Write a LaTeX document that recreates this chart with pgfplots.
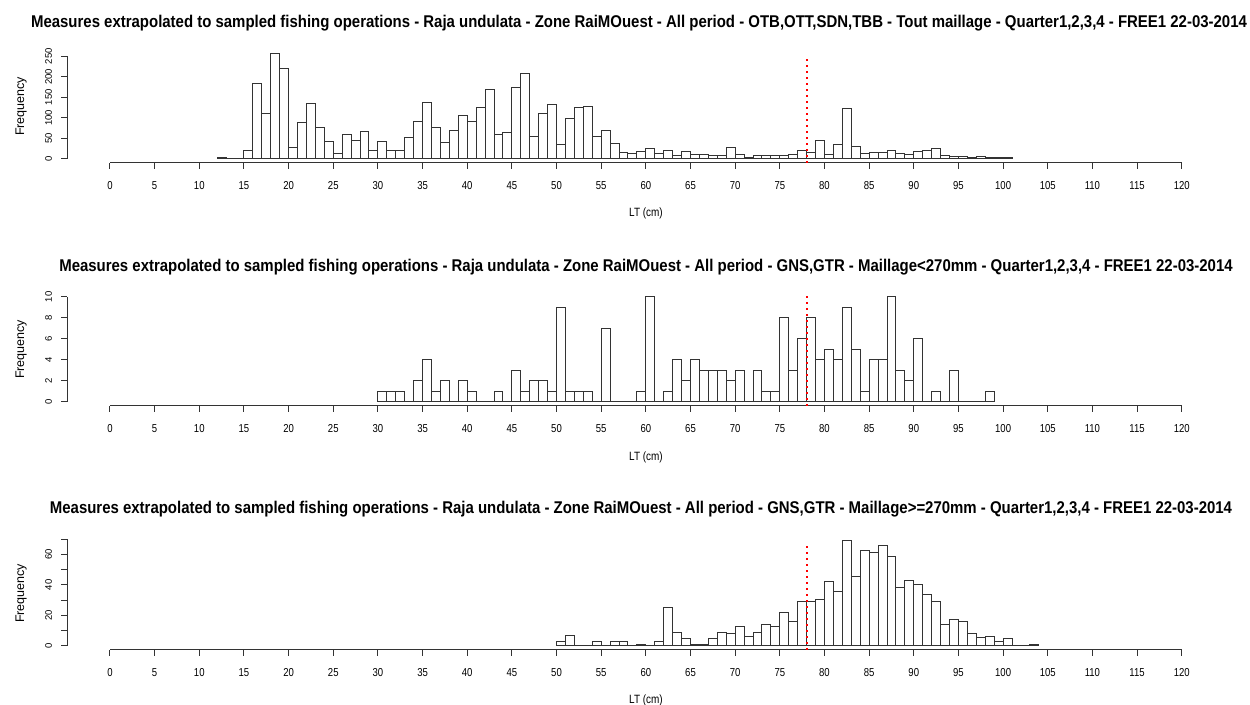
\documentclass[border=0pt]{standalone}
\usepackage{pgfplots}
\pgfplotsset{compat=1.18}
\usepackage{fontspec}
\setmainfont{Liberation Sans}[FakeStretch=0.83]
\newfontfamily\upfont{Liberation Sans}
\newfontfamily\titlefont[FakeStretch=0.88]{Liberation Sans}
\begin{document}
\begin{tikzpicture}
\useasboundingbox (0,0) rectangle (1250pt,704pt);
\pgfplotsset{
  rstyle/.style={
    scale only axis, width=1157.5pt, height=113.4pt,
    xmin=-4.8, xmax=124.8,
    axis line style={draw=none},
    tick pos=left, tick align=outside,
    major tick length=6pt,
    every tick/.style={black!80, line width=1pt},
    xtick={0,5,...,120},
    clip=false,
    /pgf/number format/assume math mode=true,
    xticklabel style={font=\fontsize{11.5}{13}\selectfont, anchor=north, inner sep=0pt},
    xticklabel shift=12pt,
    yticklabel style={font=\upfont\fontsize{9.5}{11}\selectfont, rotate=90, anchor=south, inner sep=0pt},
    yticklabel shift=9pt,
  },
  rbar/.style={ybar interval, fill=white, draw=black!80, line width=1pt},
}
% ---------------- Panel 1 ----------------
\begin{axis}[rstyle, at={(67.1pt,541pt)}, anchor=south west,
  ymin=-10.24, ymax=266.24, ytick={0,50,...,250}]
\addplot[rbar] coordinates {
(12,3)(13,1)(14,1)(15,21)(16,183)(17,110)(18,256)(19,220)(20,28)(21,88)
(22,134)(23,76)(24,43)(25,13)(26,59)(27,45)(28,67)(29,21)(30,41)(31,20)
(32,20)(33,52)(34,90)(35,138)(36,76)(37,39)(38,69)(39,106)(40,92)(41,126)
(42,168)(43,59)(44,63)(45,175)(46,207)(47,54)(48,111)(49,133)(50,36)(51,98)
(52,124)(53,128)(54,54)(55,70)(56,37)(57,16)(58,12)(59,17)(60,24)(61,12)
(62,20)(63,9)(64,17)(65,11)(66,11)(67,7)(68,7)(69,27)(70,11)(71,2)
(72,7)(73,7)(74,7)(75,7)(76,11)(77,21)(78,15)(79,45)(80,11)(81,35)
(82,122)(83,31)(84,12)(85,15)(86,15)(87,20)(88,12)(89,11)(90,18)(91,20)
(92,24)(93,8)(94,6)(95,6)(96,3)(97,5)(98,2)(99,2)(100,2)(101,0)};
\draw[black!80, line width=1pt] (axis cs:0,-10.24) -- (axis cs:120,-10.24);
\draw[black!80, line width=1pt] (axis cs:-4.8,0) -- (axis cs:-4.8,250);
\draw[red, line width=2pt, dash pattern=on 2pt off 4pt] (axis cs:78,-10.24) -- (axis cs:78,250);
\end{axis}
% ---------------- Panel 2 ----------------
\begin{axis}[rstyle, at={(67.1pt,298pt)}, anchor=south west,
  ymin=-0.4, ymax=10.4, ytick={0,2,...,10}]
\addplot[rbar] coordinates {
(30,1)(31,1)(32,1)(33,0)(34,2)(35,4)(36,1)(37,2)(38,0)(39,2)
(40,1)(41,0)(42,0)(43,1)(44,0)(45,3)(46,1)(47,2)(48,2)(49,1)
(50,9)(51,1)(52,1)(53,1)(54,0)(55,7)(56,0)(57,0)(58,0)(59,1)
(60,10)(61,0)(62,1)(63,4)(64,2)(65,4)(66,3)(67,3)(68,3)(69,2)
(70,3)(71,0)(72,3)(73,1)(74,1)(75,8)(76,3)(77,6)(78,8)(79,4)
(80,5)(81,4)(82,9)(83,5)(84,1)(85,4)(86,4)(87,10)(88,3)(89,2)
(90,6)(91,0)(92,1)(93,0)(94,3)(95,0)(96,0)(97,0)(98,1)(99,0)};
\draw[black!80, line width=1pt] (axis cs:0,-0.4) -- (axis cs:120,-0.4);
\draw[black!80, line width=1pt] (axis cs:-4.8,0) -- (axis cs:-4.8,10);
\draw[red, line width=2pt, dash pattern=on 2pt off 4pt] (axis cs:78,-0.4) -- (axis cs:78,10.4);
\end{axis}
% ---------------- Panel 3 ----------------
\begin{axis}[rstyle, at={(67.1pt,54pt)}, anchor=south west,
  ymin=-2.76, ymax=71.76, ytick={0,10,...,70},
  yticklabels={0,{},20,{},40,{},60,{}}]
\addplot[rbar] coordinates {
(50,2.6)(51,7)(52,0)(53,0)(54,2.6)(55,0)(56,2.6)(57,2.6)(58,0)(59,1)
(60,0)(61,2.6)(62,25)(63,9)(64,5)(65,1)(66,1)(67,5)(68,9)(69,8)
(70,13)(71,6)(72,9)(73,14)(74,13)(75,22)(76,16)(77,29)(78,29)(79,30.5)
(80,42)(81,36)(82,69)(83,45.5)(84,62.4)(85,61.5)(86,65.7)(87,58.5)(88,38)(89,43)
(90,40)(91,33.4)(92,29)(93,14)(94,17.6)(95,16)(96,8)(97,5.5)(98,6)(99,2.6)
(100,5)(101,0)(102,0)(103,1)(104,0)};
\draw[black!80, line width=1pt] (axis cs:0,-2.76) -- (axis cs:120,-2.76);
\draw[black!80, line width=1pt] (axis cs:-4.8,0) -- (axis cs:-4.8,70);
\draw[red, line width=2pt, dash pattern=on 2pt off 4pt] (axis cs:78,-2.76) -- (axis cs:78,67);
\end{axis}
% ---------------- Titles and labels ----------------
\tikzset{ttl/.style={font=\titlefont\fontsize{17}{19}\selectfont\bfseries, inner sep=0pt, anchor=center},
         lab/.style={font=\fontsize{12}{14}\selectfont, inner sep=0pt, anchor=center}}
\node[ttl] at (639pt,681pt) {Measures extrapolated to sampled fishing operations - Raja undulata - Zone RaiMOuest - All period - OTB,OTT,SDN,TBB - Tout maillage - Quarter1,2,3,4 - FREE1 22-03-2014};
\node[ttl] at (646pt,437pt) {Measures extrapolated to sampled fishing operations - Raja undulata - Zone RaiMOuest - All period - GNS,GTR - Maillage<270mm - Quarter1,2,3,4 - FREE1 22-03-2014};
\node[ttl] at (641pt,195pt) {Measures extrapolated to sampled fishing operations - Raja undulata - Zone RaiMOuest - All period - GNS,GTR - Maillage>=270mm - Quarter1,2,3,4 - FREE1 22-03-2014};
\node[lab] at (646pt,491pt) {LT (cm)};
\node[lab] at (646pt,247pt) {LT (cm)};
\node[lab] at (646pt,4pt) {LT (cm)};
\node[lab, font=\upfont\fontsize{12.5}{14}\selectfont, rotate=90] at (21pt,597.7pt) {Frequency};
\node[lab, font=\upfont\fontsize{12.5}{14}\selectfont, rotate=90] at (21pt,354.7pt) {Frequency};
\node[lab, font=\upfont\fontsize{12.5}{14}\selectfont, rotate=90] at (21pt,110.7pt) {Frequency};
\end{tikzpicture}
\end{document}
